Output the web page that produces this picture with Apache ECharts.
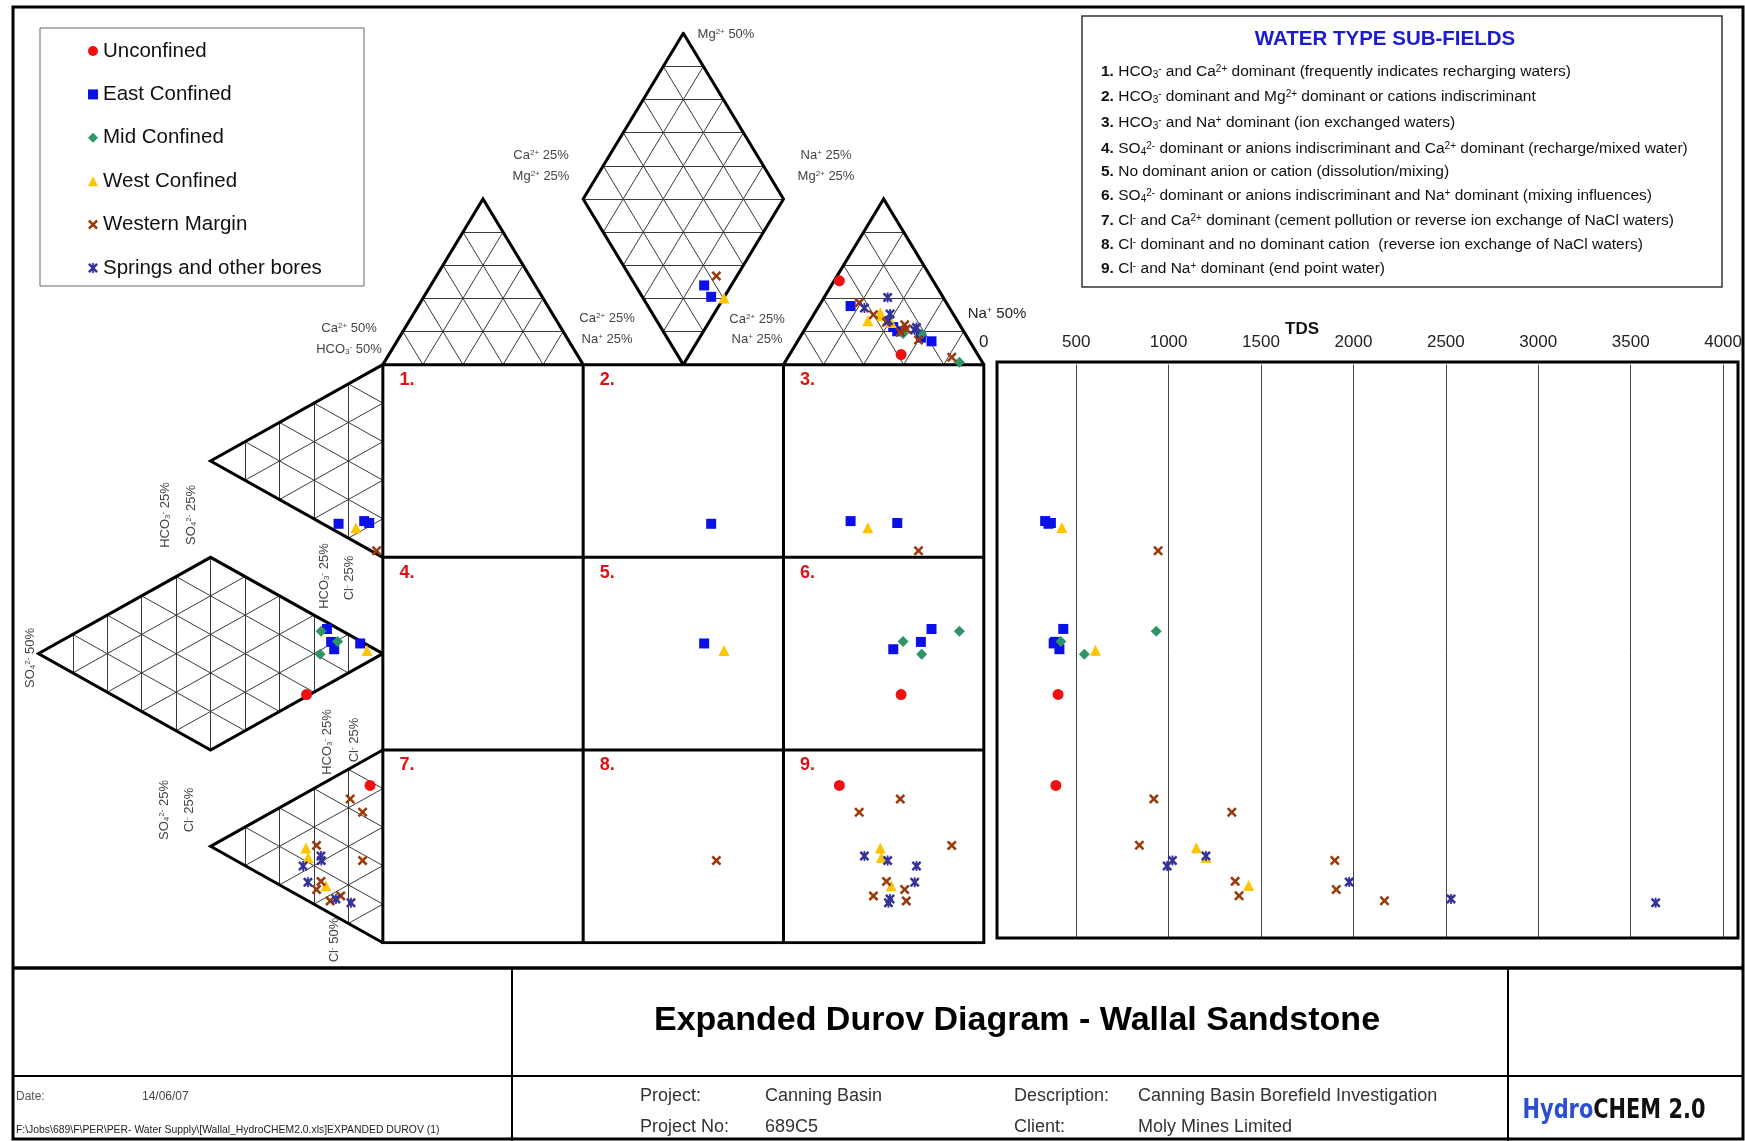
<!DOCTYPE html>
<html>
<head>
<meta charset="utf-8">
<script src="https://cdn.jsdelivr.net/npm/echarts@6/dist/echarts.min.js"></script>
<style>
html, body { margin: 0; padding: 0; background: #fff; }
#chart { width: 1745px; height: 1141px; }
</style>
</head>
<body>
<div id="chart"></div>
<script>
// each sample: [cation index (square x), anion index (square y), TDS mg/L, cation field height, anion field depth]
const groups = ["Unconfined", "East Confined", "Mid Confined", "West Confined", "Western Margin", "Springs and other bores"];

const unconfined = [
  [258.7, 171.2, 402, -5.2, -38.1],
  [227.9, 218.4, 390, -43.5, -6.4]
];
const eastConfined = [
  [163.9, 82.6, 350, -35.2, -22.1],
  [233.5, 81.2, 332, -30.4, -9.3],
  [256.8, 82.2, 363, -17.3, -6.8],
  [160.4, 144.7, 378, -41.1, -11.3],
  [273.9, 137.2, 430, -12.1, -27.9],
  [268.6, 143.9, 385, -14.0, -25.8],
  [254.8, 147.7, 409, -19.5, -24.3]
];
const midConfined = [
  [287.8, 138.4, 933, -1.2, -30.8],
  [259.7, 143.7, 417, -16.2, -22.6],
  [269.0, 150.3, 544, -15.9, -31.3]
];
const westConfined = [
  [242.1, 84.6, 422, -22.8, -13.4],
  [170.3, 148.3, 604, -34.6, -7.9],
  [248.3, 250.8, 1150, -26.9, -38.4],
  [248.9, 255.8, 1202, -25.5, -37.3],
  [253.8, 270.4, 1433, -21.9, -28.4]
];
const westernMargin = [
  [267.4, 96.6, 943, -12.8, -3.1],
  [166.5, 257.4, 1899, -46.0, -10.1],
  [258.3, 225.4, 920, -16.8, -16.3],
  [237.8, 232.3, 1342, -32.1, -10.1],
  [284.0, 249.5, 842, -3.8, -33.1],
  [251.4, 268.2, 1360, -22.0, -30.9],
  [260.5, 272.4, 1907, -20.7, -33.1],
  [244.9, 275.7, 1381, -25.9, -21.0],
  [261.3, 278.3, 2168, -18.5, -26.3]
];
const springs = [
  [240.4, 255.0, 1202, -29.4, -30.9],
  [252.0, 257.4, 1021, -34.9, -30.7],
  [266.4, 260.2, 992, -19.3, -39.8],
  [265.5, 268.6, 1977, -18.0, -37.4],
  [253.2, 277.3, 2528, -26.3, -23.4],
  [252.4, 279.3, 3635, -22.8, -15.9]
];
const samples = [unconfined, eastConfined, midConfined, westConfined, westernMargin, springs];

const tdsTicks = [0, 500, 1000, 1500, 2000, 2500, 3000, 3500, 4000];

// marker look per group
const X_PATH = "path://M0,1.8L1.8,0L5,3.2L8.2,0L10,1.8L6.8,5L10,8.2L8.2,10L5,6.8L1.8,10L0,8.2L3.2,5Z";
const STAR_PATH = "path://M0,1.8L1.8,0L5,3.2L8.2,0L10,1.8L6.8,5L10,8.2L8.2,10L5,6.8L1.8,10L0,8.2L3.2,5Z" +
  "M4.1,0L5.9,0L5.9,10L4.1,10Z";
const looks = [
  { symbol: "circle", size: 11, color: "#f01010" },
  { symbol: "rect", size: 10, color: "#0a10e8" },
  { symbol: "diamond", size: 11, color: "#2f9466" },
  { symbol: "triangle", size: 11, color: "#ffc400" },
  { symbol: X_PATH, size: 10, color: "#9a3a0a" },
  { symbol: STAR_PATH, size: 10, color: "#34339a" }
];

// diagram geometry (square cells of 100, triangle height H)
const H = 86;
const pieces = [
  [[0, 0], [100, 0], [50, -H]],
  [[100, -H], [200, -H], [150, -2 * H]],
  [[100, -H], [200, -H], [150, 0]],
  [[200, 0], [300, 0], [250, -H]],
  [[0, 0], [0, 100], [-H, 50]],
  [[-H, 100], [-H, 200], [0, 150]],
  [[-H, 100], [-H, 200], [-2 * H, 150]],
  [[0, 200], [0, 300], [-H, 250]]
];
const outlines = [
  [[0, 0], [50, -H], [100, 0]],
  [[150, 0], [100, -H], [150, -2 * H], [200, -H], [150, 0]],
  [[200, 0], [250, -H], [300, 0]],
  [[0, 0], [-H, 50], [0, 100]],
  [[0, 150], [-H, 100], [-2 * H, 150], [-H, 200], [0, 150]],
  [[0, 200], [-H, 250], [0, 300]],
  [[0, 0], [300, 0], [300, 300], [0, 300], [0, 0]],
  [[100, 0], [100, 300]], [[200, 0], [200, 300]],
  [[0, 100], [300, 100]], [[0, 200], [300, 200]]
];

function lattice(tri, n) {
  const segs = [];
  for (let k = 0; k < 3; k++) {
    const A = tri[k], B = tri[(k + 1) % 3], C = tri[(k + 2) % 3];
    for (let i = 1; i < n; i++) {
      const t = i / n;
      segs.push({ coords: [
        [A[0] + (B[0] - A[0]) * t, A[1] + (B[1] - A[1]) * t],
        [A[0] + (C[0] - A[0]) * t, A[1] + (C[1] - A[1]) * t]
      ] });
    }
  }
  return segs;
}
let gridSegs = [];
pieces.forEach(p => { gridSegs = gridSegs.concat(lattice(p, 5)); });
gridSegs.push({ coords: [[100, -H], [200, -H]] });
gridSegs.push({ coords: [[-H, 100], [-H, 200]] });

const FONT = "Liberation Sans, Arial, sans-serif";
const chart = echarts.init(document.getElementById("chart"));

const series = [
  {
    type: "lines", coordinateSystem: "cartesian2d", xAxisIndex: 0, yAxisIndex: 0,
    silent: true, z: 1, lineStyle: { color: "#3a3a3a", width: 1, opacity: 1 },
    data: gridSegs
  },
  {
    type: "lines", coordinateSystem: "cartesian2d", xAxisIndex: 0, yAxisIndex: 0,
    polyline: true, silent: true, z: 2, lineStyle: { color: "#000", width: 3, opacity: 1 },
    data: outlines.map(c => ({ coords: c }))
  }
];

groups.forEach((g, i) => {
  const lk = looks[i];
  const pts = [];
  samples[i].forEach(s => {
    pts.push([s[0], s[3]]);   // cation field
    pts.push([s[4], s[1]]);   // anion field
    pts.push([s[0], s[1]]);   // central square
  });
  series.push({
    name: g, type: "scatter", xAxisIndex: 0, yAxisIndex: 0, z: 5,
    symbol: lk.symbol, symbolSize: lk.size, itemStyle: { color: lk.color, opacity: 1 },
    data: pts
  });
  series.push({
    name: g, type: "scatter", xAxisIndex: 1, yAxisIndex: 1, z: 5,
    symbol: lk.symbol, symbolSize: lk.size, itemStyle: { color: lk.color, opacity: 1 },
    data: samples[i].map(s => [s[2], s[1]])
  });
});

chart.setOption({
  animation: false,
  backgroundColor: "#fff",
  textStyle: { fontFamily: FONT },
  grid: [
    { left: 38.3, top: 33.2, width: 945.5, height: 909.5 },
    { left: 983.8, top: 364.6, width: 741.6, height: 573.4 }
  ],
  xAxis: [
    { gridIndex: 0, type: "value", min: -2 * H, max: 300, show: false },
    {
      gridIndex: 1, type: "value", min: 0, max: 4000, interval: 500, position: "top",
      axisLine: { show: false }, axisTick: { show: false },
      axisLabel: { fontSize: 17, color: "#222", margin: 14, showMaxLabel: true,
        customValues: tdsTicks, formatter: v => String(v) },
      splitLine: { show: true, lineStyle: { color: "#444", width: 1 } }
    }
  ],
  yAxis: [
    { gridIndex: 0, type: "value", min: -2 * H, max: 300, inverse: true, show: false },
    { gridIndex: 1, type: "value", min: 0, max: 297.6, inverse: true, show: false }
  ],
  legend: {
    data: groups, orient: "vertical", left: 83, top: 35.5,
    itemWidth: 10, itemHeight: 10, itemGap: 22.4,
    textStyle: { fontSize: 20.5, color: "#111", lineHeight: 20, fontFamily: FONT },
    selectedMode: false
  },
  series: series
});

function rich(size) {
  return {
    sup: { fontSize: Math.round(size * 0.62), fontFamily: FONT, verticalAlign: "top" },
    sub: { fontSize: Math.round(size * 0.62), fontFamily: FONT, verticalAlign: "bottom" },
    b: { fontSize: size, fontFamily: FONT, fontWeight: "bold" }
  };
}
function txt(x, y, text, o) {
  o = o || {};
  const size = o.size || 13;
  return {
    type: "text", x: x, y: y, rotation: o.rot || 0, scaleX: o.sx || 1, silent: true, z: 50,
    style: {
      text: text, fontSize: size, fontFamily: o.family || FONT, fontWeight: o.weight || "normal",
      fill: o.color || "#444", align: o.align || "center", textAlign: o.align || "center",
      verticalAlign: "middle", textVerticalAlign: "middle", rich: o.rich || rich(size)
    }
  };
}
function box(x, y, w, h, lw, color) {
  return { type: "rect", silent: true, z: 40, shape: { x: x, y: y, width: w, height: h },
    style: { fill: null, stroke: color || "#000", lineWidth: lw } };
}
function seg(x1, y1, x2, y2, lw) {
  return { type: "line", silent: true, z: 40, shape: { x1: x1, y1: y1, x2: x2, y2: y2 },
    style: { stroke: "#000", lineWidth: lw } };
}

const R = Math.PI / 2;
const g = [
  box(13, 7, 1730, 1132, 3),
  seg(13, 968, 1743, 968, 3.5),
  seg(13, 1076, 1743, 1076, 2),
  seg(512, 968, 512, 1141, 2),
  seg(1508, 968, 1508, 1141, 2),
  box(40, 28, 324, 258, 1, "#666"),
  box(1082, 16, 640, 271, 1.5, "#333"),
  box(997, 362, 741, 576, 3),

  txt(349, 328, "Ca{sup|2+} 50%"),
  txt(349, 349, "HCO{sub|3}{sup|-} 50%"),
  txt(541, 155, "Ca{sup|2+} 25%"),
  txt(541, 176, "Mg{sup|2+} 25%"),
  txt(726, 34, "Mg{sup|2+} 50%"),
  txt(826, 155, "Na{sup|+} 25%"),
  txt(826, 176, "Mg{sup|2+} 25%"),
  txt(607, 318, "Ca{sup|2+} 25%"),
  txt(607, 339, "Na{sup|+} 25%"),
  txt(757, 319, "Ca{sup|2+} 25%"),
  txt(757, 339, "Na{sup|+} 25%"),
  txt(997, 314, "Na{sup|+} 50%", { size: 15, color: "#222" }),

  txt(165, 515, "HCO{sub|3}{sup|-} 25%", { rot: R }),
  txt(191, 515, "SO{sub|4}{sup|2-} 25%", { rot: R }),
  txt(324, 576, "HCO{sub|3}{sup|-} 25%", { rot: R }),
  txt(349, 578, "Cl{sup|-} 25%", { rot: R }),
  txt(30, 658, "SO{sub|4}{sup|2-} 50%", { rot: R }),
  txt(327, 742, "HCO{sub|3}{sup|-} 25%", { rot: R }),
  txt(354, 740, "Cl{sup|-} 25%", { rot: R }),
  txt(164, 810, "SO{sub|4}{sup|2-} 25%", { rot: R }),
  txt(189, 810, "Cl{sup|-} 25%", { rot: R }),
  txt(334, 940, "Cl{sup|-} 50%", { rot: R }),

  txt(1302, 329, "TDS", { size: 17, weight: "bold", color: "#111" }),

  txt(1385, 39, "WATER TYPE SUB-FIELDS", { size: 20.5, weight: "bold", color: "#1a1ad0" })
];

const subFields = [
  "{b|1.} HCO{sub|3}{sup|-} and Ca{sup|2+} dominant (frequently indicates recharging waters)",
  "{b|2.} HCO{sub|3}{sup|-} dominant and Mg{sup|2+} dominant or cations indiscriminant",
  "{b|3.} HCO{sub|3}{sup|-} and Na{sup|+} dominant (ion exchanged waters)",
  "{b|4.} SO{sub|4}{sup|2-} dominant or anions indiscriminant and Ca{sup|2+} dominant (recharge/mixed water)",
  "{b|5.} No dominant anion or cation (dissolution/mixing)",
  "{b|6.} SO{sub|4}{sup|2-} dominant or anions indiscriminant and Na{sup|+} dominant (mixing influences)",
  "{b|7.} Cl{sup|-} and Ca{sup|2+} dominant (cement pollution or reverse ion exchange of NaCl waters)",
  "{b|8.} Cl{sup|-} dominant and no dominant cation  (reverse ion exchange of NaCl waters)",
  "{b|9.} Cl{sup|-} and Na{sup|+} dominant (end point water)"
];
const subY = [72, 97, 123, 149, 172, 196, 221, 245, 269];
subFields.forEach((t, i) => g.push(txt(1101, subY[i], t, { size: 15.5, align: "left", color: "#111" })));

// field numbers in the central square
for (let r = 0; r < 3; r++) {
  for (let c = 0; c < 3; c++) {
    const p = chart.convertToPixel({ gridIndex: 0 }, [c * 100 + 12, r * 100 + 8]);
    g.push(txt(p[0], p[1], (r * 3 + c + 1) + ".", { size: 18, weight: "bold", color: "#dd1111" }));
  }
}

// title block
g.push(txt(1017, 1020.5, "Expanded Durov Diagram - Wallal Sandstone", { size: 34, weight: "bold", color: "#000" }));
g.push(txt(16, 1097, "Date:", { size: 12, align: "left", color: "#555" }));
g.push(txt(142, 1097, "14/06/07", { size: 12, align: "left", color: "#444" }));
g.push(txt(16, 1130, "F:\\Jobs\\689\\F\\PER\\PER- Water Supply\\[Wallal_HydroCHEM2.0.xls]EXPANDED DUROV (1)", { size: 10.4, align: "left", color: "#222" }));
g.push(txt(640, 1096, "Project:", { size: 18, align: "left", color: "#333" }));
g.push(txt(765, 1096, "Canning Basin", { size: 18, align: "left", color: "#333" }));
g.push(txt(640, 1127, "Project No:", { size: 18, align: "left", color: "#333" }));
g.push(txt(765, 1127, "689C5", { size: 18, align: "left", color: "#333" }));
g.push(txt(1014, 1096, "Description:", { size: 18, align: "left", color: "#333" }));
g.push(txt(1138, 1096, "Canning Basin Borefield Investigation", { size: 18, align: "left", color: "#333" }));
g.push(txt(1014, 1127, "Client:", { size: 18, align: "left", color: "#333" }));
g.push(txt(1138, 1127, "Moly Mines Limited", { size: 18, align: "left", color: "#333" }));
const NARROW = "Liberation Sans Narrow, DejaVu Sans Condensed, sans-serif";
g.push(txt(1614, 1111, "{h|Hydro}{c|CHEM 2.0}", { size: 27, sx: 0.86, rich: {
  h: { fontSize: 27, fontWeight: "bold", fontFamily: NARROW, fill: "#2a4fd0" },
  c: { fontSize: 27, fontWeight: "bold", fontFamily: NARROW, fill: "#111" }
} }));

chart.setOption({ graphic: { elements: g } });
</script>
</body>
</html>
